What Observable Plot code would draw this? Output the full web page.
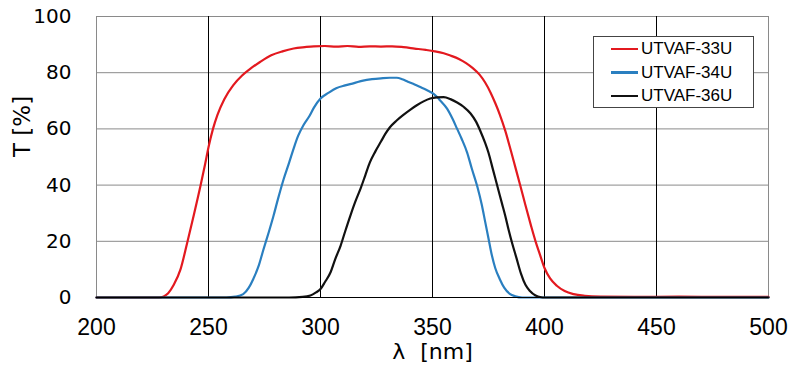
<!DOCTYPE html>
<html>
<head>
<meta charset="utf-8">
<script src="https://cdn.jsdelivr.net/npm/d3@7"></script>
<script src="https://cdn.jsdelivr.net/npm/@observablehq/plot@0.6"></script>
<style>
  html, body { margin: 0; padding: 0; background: #fff; }
  #wrap { position: relative; width: 799px; height: 380px; }
  #legend { position: absolute; left: 593px; top: 36px; width: 159px; height: 70px;
            border: 1px solid #444; background: #fff; font-family: "Liberation Sans", Arial, sans-serif; font-size: 17px; }
  .item { position: absolute; left: 0; height: 20px; display: flex; align-items: center; }
  .swatch { display: inline-block; width: 27px; height: 2.5px; margin-left: 17px; margin-right: 3px; }
</style>
</head>
<body>
<div id="wrap"></div>
<script>
// ---- data ----
const seriesNames = ["UTVAF-33U", "UTVAF-34U", "UTVAF-36U"];
const seriesColors = ["#e3191f", "#2a7fc0", "#111111"];

const nm33 = [200, 228, 230, 232, 234.5, 237.5, 240.5, 243.5, 246.5, 248.5, 250, 252, 254, 257, 261, 265, 269, 273, 278, 283, 288, 293, 297,
  302, 307, 312, 317, 322, 327, 332, 337, 342, 347, 351, 355, 358, 362, 365, 368, 371, 373.5, 376, 378, 380, 382.5, 385, 387, 389,
  391.5, 394, 396, 398, 400, 402.5, 405.5, 409, 413, 418, 425, 440, 460, 480, 500];
const t33 = [0, 0, 0.4, 1.5, 4.5, 10, 19.5, 29.5, 40, 47.5, 53.5, 60, 65, 70.5, 75.5, 79, 81.6, 83.8, 86.2, 87.6, 88.6, 89.1, 89.4,
  89.5, 89.3, 89.5, 89.2, 89.4, 89.3, 89.4, 89.1, 88.6, 88.1, 87.6, 86.9, 86.1, 84.8, 83.4, 81.6, 79.3, 76.5, 72.8, 69.2, 65.2, 59.3, 52.2, 46.3, 40.4,
  32.8, 25.5, 20, 15.2, 10.5, 6.8, 4.2, 2.3, 1.2, 0.6, 0.3, 0.2, 0.3, 0.2, 0.2];

const nm34 = [200, 258, 262, 265.5, 268, 270, 272.5, 274.5, 277, 279, 281, 283.5, 286, 288, 290, 292.5, 295, 297, 300, 303.5, 307, 311, 315,
  319, 323, 327, 331, 334, 336.5, 339, 342, 345, 348, 350.5, 353, 356.5, 359, 361, 363, 365.5, 367.5, 370, 372, 373.5, 375, 376.5, 378,
  380, 382, 384.5, 387, 390, 500];
const t34 = [0, 0, 0.3, 1.2, 3.5, 6.6, 11.5, 17, 23.5, 29, 35, 42, 48, 53, 57.5, 61.5, 64.5, 67.5, 70.8, 72.8, 74.5, 75.5, 76.3,
  77.2, 77.7, 78, 78.2, 78.2, 77.7, 76.8, 75.8, 74.7, 73.6, 72.5, 70.5, 67.2, 63.5, 60, 56.5, 51.5, 46, 39.5, 33, 27, 21, 15, 10.5,
  6.6, 3.5, 1.3, 0.4, 0, 0];

const nm36 = [200, 286, 292, 295.5, 298, 300, 302, 304.5, 306.5, 309, 311, 313.5, 315.5, 318, 320, 322, 324.5, 327, 329, 331, 334, 337, 340,
  343, 346, 349, 352, 355, 358, 361, 364, 367, 369.5, 371.5, 373.5, 375, 377, 379, 381, 382.5, 384, 385.5, 387.5, 389.5, 391.5, 393.5,
  396, 398.5, 400, 500];
const t36 = [0, 0, 0.2, 0.7, 1.8, 3, 5.5, 9, 13.5, 18.5, 23.5, 29.5, 34, 39, 43.5, 48, 52, 55.5, 58.3, 60.6, 63, 65, 66.8,
  68.4, 69.8, 70.8, 71.2, 71.3, 70.6, 69.4, 67.8, 65.5, 62.5, 59, 55, 51.5, 45.5, 39.5, 33.5, 29, 24, 19.5, 14, 8.5, 4.5, 2.3,
  0.7, 0.1, 0, 0];

const xTicks = [200, 250, 300, 350, 400, 450, 500];
const yTicks = [0, 20, 40, 60, 80, 100];
const xLabel = "λ [nm]";
const yLabel = "T [%]";

// ---- build table ----
const rows = [];
[[nm33, t33], [nm34, t34], [nm36, t36]].forEach(([xs, ys], i) => {
  xs.forEach((x, j) => rows.push({series: seriesNames[i], nm: x, T: ys[j]}));
});

const chart = Plot.plot({
  width: 799,
  height: 380,
  marginLeft: 96,
  marginRight: 31,
  marginTop: 16,
  marginBottom: 83,
  style: {background: "#fff", overflow: "visible"},
  x: {domain: [200, 500]},
  y: {domain: [0, 100]},
  color: {domain: seriesNames, range: seriesColors},
  marks: [
    Plot.ruleY(yTicks.filter(d => d > 0), {stroke: "#8a8a8a", strokeWidth: 1}),
    Plot.ruleX([xTicks[0], xTicks[xTicks.length - 1]], {stroke: "#8a8a8a", strokeWidth: 1}),
    Plot.ruleX(xTicks.slice(1, -1), {stroke: "#000", strokeWidth: 1}),
    Plot.axisY(yTicks, {tickSize: 0, tickPadding: 25, fontSize: 20, fontFamily: "DejaVu Sans", label: null, fill: "#000"}),
    Plot.axisX(xTicks, {tickSize: 0, tickPadding: 21, fontSize: 23, fontFamily: "Liberation Sans", label: null, fill: "#000"}),
    Plot.line(rows, {x: "nm", y: "T", z: "series", stroke: "series", strokeWidth: 2.2, curve: "monotone-x"}),
    Plot.ruleY([0], {stroke: "#000", strokeWidth: 1.2}),
    Plot.text([yLabel], {frameAnchor: "left", rotate: -90, dx: -74, fontSize: 23, fontFamily: "DejaVu Sans", fill: "#000"}),
    Plot.text([xLabel], {frameAnchor: "bottom", dy: 61, fontSize: 22, fontFamily: "DejaVu Sans", fill: "#000"})
  ]
});
document.getElementById("wrap").appendChild(chart);
d3.select(chart).selectAll("text").filter(function() { return this.textContent === xLabel; })
  .style("word-spacing", "8px");

// ---- legend ----
const legend = document.createElement("div");
legend.id = "legend";
seriesNames.forEach((name, i) => {
  const item = document.createElement("div");
  item.className = "item";
  item.style.top = (2 + i * 23.5) + "px";
  const sw = document.createElement("span");
  sw.className = "swatch";
  sw.style.background = seriesColors[i];
  const tx = document.createElement("span");
  tx.textContent = name;
  item.appendChild(sw);
  item.appendChild(tx);
  legend.appendChild(item);
});
document.getElementById("wrap").appendChild(legend);
</script>
</body>
</html>
